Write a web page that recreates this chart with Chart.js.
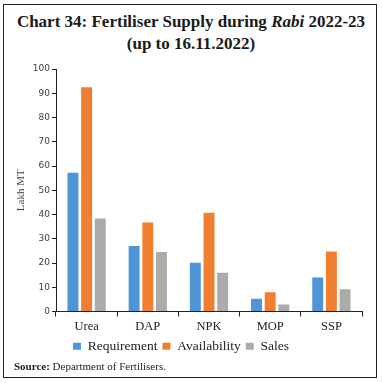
<!DOCTYPE html>
<html>
<head>
<meta charset="utf-8">
<script src="https://cdn.jsdelivr.net/npm/chart.js@4.4.0/dist/chart.umd.min.js"></script>
<style>
  html, body { margin: 0; padding: 0; background: #fff; }
  #wrap { position: relative; width: 382px; height: 383px; overflow: hidden; background: #fff; }
  #frame { position: absolute; left: 3px; top: 4px; width: 372px; height: 372px; border: 1.5px solid #222; }
  #title { position: absolute; left: 0; top: 11px; width: 382px; text-align: center;
           font-family: "Liberation Serif", "DejaVu Serif", serif; font-weight: bold; font-size: 17px;
           line-height: 22px; color: #1a1a1a; }
  #source { position: absolute; left: 14px; top: 360px; font-family: "Liberation Serif", serif;
            font-size: 11px; color: #222; }
  #cv { position: absolute; left: 0; top: 60px; }
</style>
</head>
<body>
<div id="wrap">
  <div id="frame"></div>
  <div id="title">Chart 34: Fertiliser Supply during <i>Rabi</i> 2022-23<br>(up to 16.11.2022)</div>
  <canvas id="cv" width="382" height="303"></canvas>
  <div id="source"><b>Source:</b> Department of Fertilisers.</div>
</div>
<script>
const categories = ["Urea", "DAP", "NPK", "MOP", "SSP"];
const requirement = [57.2, 27.0, 20.1, 5.3, 14.0];
const availability = [92.5, 36.7, 40.7, 7.9, 24.7];
const sales = [38.3, 24.5, 16.0, 2.9, 9.2];
const yTicks = [0, 10, 20, 30, 40, 50, 60, 70, 80, 90, 100];

const serif = "'Liberation Serif', 'DejaVu Serif', serif";

new Chart(document.getElementById('cv'), {
  type: 'bar',
  data: {
    labels: categories,
    datasets: [
      { label: 'Requirement', data: requirement, backgroundColor: '#4F94D6' },
      { label: 'Availability', data: availability, backgroundColor: '#F07F32' },
      { label: 'Sales', data: sales, backgroundColor: '#ABABAB' }
    ]
  },
  options: {
    responsive: false,
    animation: false,
    layout: { padding: { left: 0, right: 20, top: 9, bottom: 0 } },
    datasets: { bar: { barPercentage: 0.8, categoryPercentage: 0.67 } },
    plugins: {
      legend: {
        position: 'bottom',
        labels: {
          boxWidth: 8, boxHeight: 7, padding: 5,
          color: '#222',
          font: { family: serif, size: 13.5 }
        }
      },
      tooltip: { enabled: false }
    },
    scales: {
      x: {
        grid: { offset: true, drawOnChartArea: false, drawTicks: true, tickLength: 5, color: '#222' },
        border: { display: true, color: '#222', width: 1 },
        ticks: { color: '#222', padding: 3, font: { family: serif, size: 12.5 } },
        afterFit: (s) => { s.height = 23; }
      },
      y: {
        min: 0, max: 100,
        afterBuildTicks: (s) => { s.ticks = yTicks.map(v => ({ value: v })); },
        grid: { drawOnChartArea: false, drawTicks: true, tickLength: 4, color: '#222' },
        border: { display: true, color: '#222', width: 1 },
        ticks: { color: '#404040', padding: 2, font: { family: "'DejaVu Sans', sans-serif", size: 9 } },
        title: { display: true, text: 'Lakh MT', color: '#404040', padding: { top: 15, bottom: 0 },
                 font: { family: serif, size: 11 } },
        afterFit: (s) => { s.width = 56; }
      }
    }
  }
});
</script>
</body>
</html>
